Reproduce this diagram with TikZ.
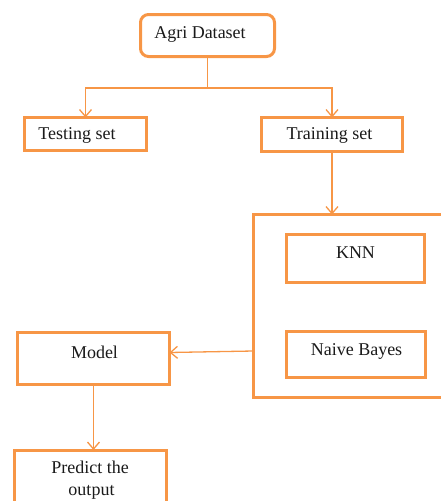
\documentclass[tikz,border=0pt]{standalone}
\usepackage{fontspec}
\setmainfont{Liberation Serif}
\usetikzlibrary{arrows.meta}
\definecolor{ora}{HTML}{F79646}
\definecolor{ink}{HTML}{1A1A1A}
\tikzset{
  box/.style={draw=ora, line width=3pt, inner sep=0pt, outer sep=0pt, rectangle},
  lbl/.style={anchor=base, inner sep=0pt, text=ink, font=\fontsize{18}{22}\selectfont},
  conn/.style={draw=ora, line width=1.3pt},
  arr/.style={conn, -{Straight Barb[length=7pt,width=12pt,line width=1.3pt]}}
}
\begin{document}
\begin{tikzpicture}[x=1pt,y=-1pt]
\useasboundingbox (0,0) rectangle (441,501);
% boxes
\node[box, rounded corners=8pt, minimum width=134pt, minimum height=42pt] (agri) at (207.5,35.5) {};
\node[box, minimum width=122pt, minimum height=33pt] (test) at (85.5,134) {};
\node[box, minimum width=141pt, minimum height=34pt] (train) at (332,134.5) {};
\node[box, minimum width=206.5pt, minimum height=183pt] (big) at (356.75,306) {};
\node[box, minimum width=138pt, minimum height=48pt] (knn) at (355.5,258.5) {};
\node[box, minimum width=139pt, minimum height=46pt] (nb) at (356,354.5) {};
\node[box, minimum width=152pt, minimum height=52pt] (model) at (93.5,358.5) {};
\node[box, minimum width=152pt, minimum height=60pt] (pred) at (90.5,480) {};
% labels
\node[lbl] (tagri) at (200,38) {Agri Dataset};
\node[lbl] (ttest) at (77,139.5) {Testing set};
\node[lbl] (ttrain) at (329.5,139.5) {Training set};
\node[lbl] (tknn) at (355.5,258) {KNN};
\node[lbl] (tnb) at (356.5,355) {Naive Bayes};
\node[lbl] (tmodel) at (94.5,358) {Model};
\node[lbl] (tpred1) at (90,473) {Predict the};
\node[lbl] (tpred2) at (91.5,495) {output};
% connectors
\coordinate (j) at (207.5,88);
\draw[conn] (agri.south) -- (j);
\draw[arr] (j) -| (test.north);
\draw[arr] (j) -| (train.north);
\draw[arr] (train.south) -- (train.south |- big.north);
\draw[arr] ([yshift=-45pt]big.west) -- ([yshift=6pt]model.east);
\draw[arr] (model.south) -- (model.south |- pred.north);
\end{tikzpicture}
\end{document}
